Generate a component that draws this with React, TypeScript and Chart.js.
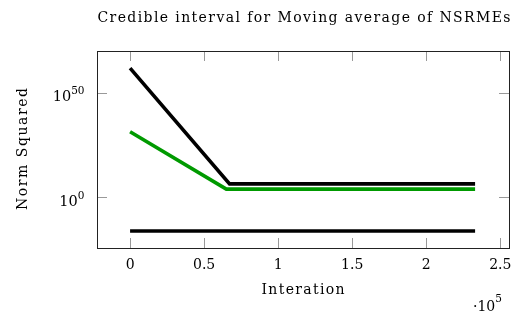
import React, { useEffect, useRef } from "react";
import { Chart, registerables } from "chart.js";

Chart.register(...registerables);

const upperIter = [0, 67200, 233000];
const upperExp = [61.7, 6.5, 6.5];
const meanIter = [0, 65000, 233000];
const meanExp = [31.4, 4.0, 4.0];
const lowerIter = [0, 233000];
const lowerExp = [-16.0, -16.0];

const xTicks = [0, 50000, 100000, 150000, 200000, 250000];
const xTickLabels = ["0", "0.5", "1", "1.5", "2", "2.5"];
const yTickExps = [0, 50];

const FONT = "DejaVu Serif";

const toPts = (xs: number[], es: number[]) => xs.map((x, i) => ({ x, y: Math.pow(10, es[i]) }));

function fitText(ctx: any, text: string, x: number, y: number, width: number) {
  ctx.letterSpacing = "0px";
  const w = ctx.measureText(text).width;
  const sp = Math.max(0, (width - w) / Math.max(1, text.length - 1));
  ctx.letterSpacing = sp + "px";
  ctx.textAlign = "left";
  ctx.fillText(text, x - width / 2, y);
  ctx.letterSpacing = "0px";
}

const decor = {
  id: "decor",
  afterDraw(chart: any) {
    const ctx = chart.ctx;
    const a = chart.chartArea;
    const xs = chart.scales.x;
    const ys = chart.scales.y;
    ctx.save();
    // ticks
    ctx.strokeStyle = "#999";
    ctx.lineWidth = 1;
    const tl = 10;
    xTicks.forEach((t) => {
      const px = Math.round(xs.getPixelForValue(t)) + 0.5;
      ctx.beginPath();
      ctx.moveTo(px, a.bottom);
      ctx.lineTo(px, a.bottom - tl);
      ctx.moveTo(px, a.top);
      ctx.lineTo(px, a.top + tl);
      ctx.stroke();
    });
    yTickExps.forEach((e) => {
      const py = Math.round(ys.getPixelForValue(Math.pow(10, e))) + 0.5;
      ctx.beginPath();
      ctx.moveTo(a.left, py);
      ctx.lineTo(a.left + tl, py);
      ctx.moveTo(a.right, py);
      ctx.lineTo(a.right - tl, py);
      ctx.stroke();
    });
    // border
    ctx.strokeStyle = "#222";
    ctx.strokeRect(Math.round(a.left) + 0.5, Math.round(a.top) + 0.5, Math.round(a.right - a.left), Math.round(a.bottom - a.top));
    // x labels
    ctx.fillStyle = "#000";
    ctx.font = `14px "${FONT}"`;
    ctx.textAlign = "center";
    ctx.textBaseline = "alphabetic";
    xTicks.forEach((t, i) => {
      ctx.fillText(xTickLabels[i], xs.getPixelForValue(t), 268.5);
    });
    // y labels with superscript
    yTickExps.forEach((e) => {
      const py = ys.getPixelForValue(Math.pow(10, e));
      ctx.font = `10.5px "${FONT}"`;
      const ew = ctx.measureText(String(e)).width;
      ctx.textAlign = "right";
      ctx.fillText(String(e), 84.5, py + 1.5);
      ctx.font = `14.5px "${FONT}"`;
      ctx.fillText("10", 84.5 - ew, py + 8.5);
    });
    // axis titles
    ctx.font = `14px "${FONT}"`;
    fitText(ctx, "Interation", (a.left + a.right) / 2, 293.5, 83);
    ctx.save();
    ctx.translate(26.5, 149);
    ctx.rotate(-Math.PI / 2);
    fitText(ctx, "Norm Squared", 0, 0, 122);
    ctx.restore();
    // multiplier
    ctx.textAlign = "left";
    ctx.font = `14px "${FONT}"`;
    ctx.fillText("\u00b710", 473, 311);
    const w = ctx.measureText("\u00b710").width;
    ctx.font = `10.5px "${FONT}"`;
    ctx.fillText("5", 473 + w, 302);
    // title
    ctx.font = `14px "${FONT}"`;
    fitText(ctx, "Credible interval for Moving average of NSRMEs", 304, 21.5, 413);
    ctx.restore();
  },
};

export default function App() {
  const ref = useRef<HTMLCanvasElement | null>(null);
  useEffect(() => {
    if (!ref.current) return;
    const chart = new Chart(ref.current, {
      type: "line",
      data: {
        datasets: [
          { data: toPts(upperIter, upperExp), borderColor: "#000", borderWidth: 3.6, pointRadius: 0, fill: false },
          { data: toPts(meanIter, meanExp), borderColor: "#009a00", borderWidth: 3.6, pointRadius: 0, fill: false },
          { data: toPts(lowerIter, lowerExp), borderColor: "#000", borderWidth: 3.6, pointRadius: 0, fill: false },
        ],
      },
      options: {
        animation: false,
        responsive: true,
        maintainAspectRatio: false,
        layout: { padding: { left: 97, right: 3, top: 51, bottom: 70 } },
        plugins: { legend: { display: false }, tooltip: { enabled: false }, title: { display: false } },
        scales: {
          x: { type: "linear", display: false, min: -22340, max: 255900 },
          y: { type: "logarithmic", display: false, min: Math.pow(10, -24.1), max: Math.pow(10, 69.9) },
        },
      },
      plugins: [decor],
    });
    return () => chart.destroy();
  }, []);
  return (
    <div style={{ position: "absolute", left: 0, top: 0, width: 512, height: 318, background: "#fff" }}>
      <canvas ref={ref} />
    </div>
  );
}
